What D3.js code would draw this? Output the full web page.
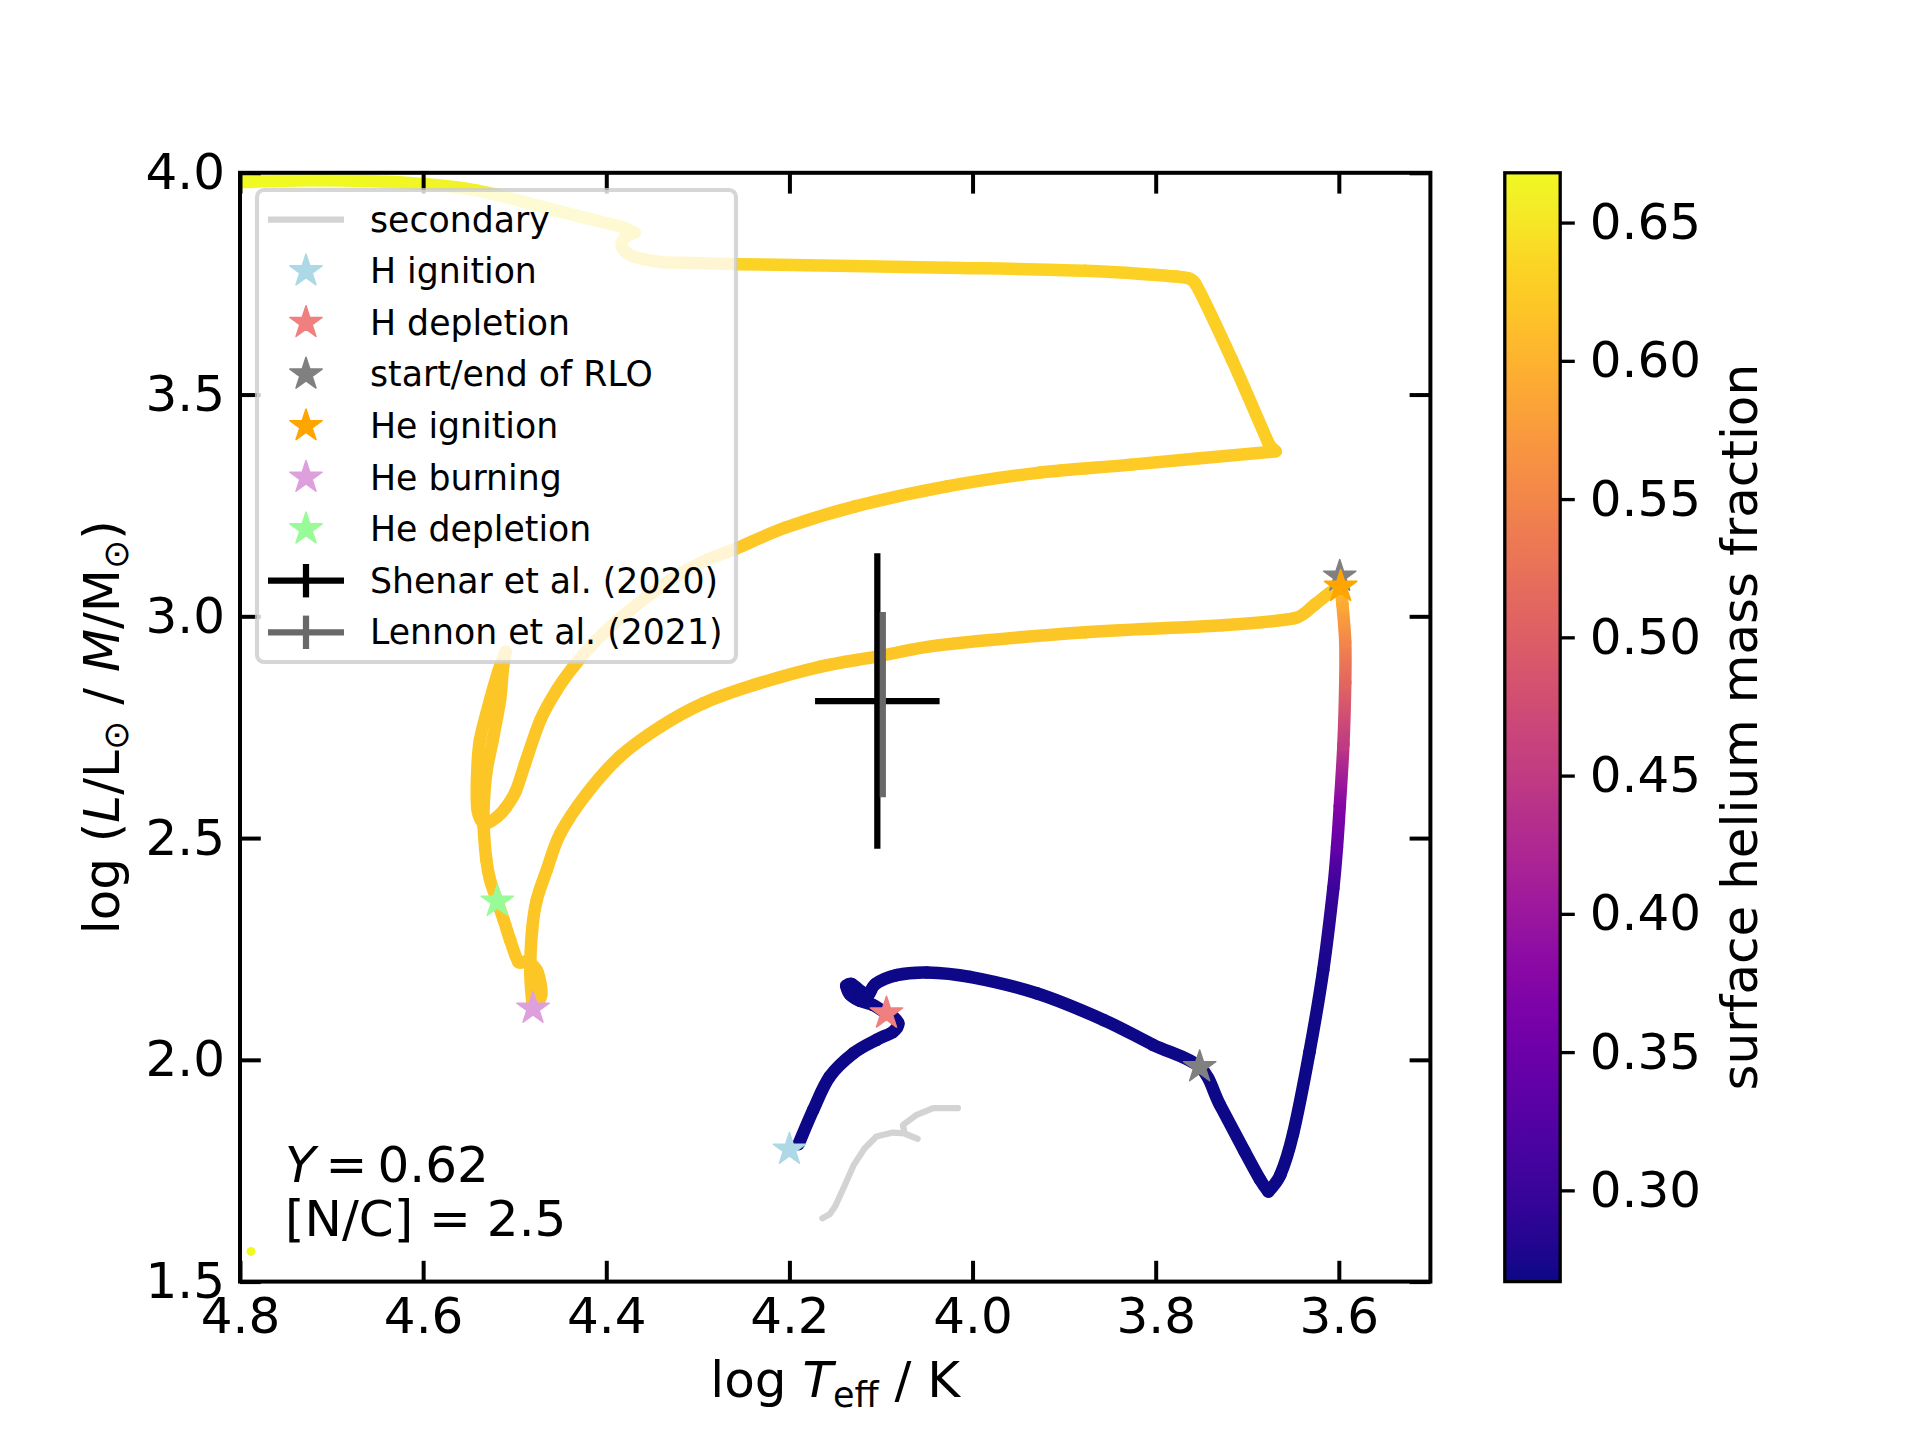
<!DOCTYPE html>
<html>
<head>
<meta charset="utf-8">
<script src="https://cdn.jsdelivr.net/npm/d3@7"></script>
<style>
  body { margin: 0; background: #ffffff; }
  text { font-family: "DejaVu Sans", sans-serif; }
</style>
</head>
<body>
<svg id="chart" width="1920" height="1440"></svg>
<script>
// primary star: log Teff, log (L/M) and surface helium along the track
var trackLogT = [4.190, 4.174, 4.156, 4.130, 4.105, 4.087, 4.081, 4.087, 4.094, 4.109,
                 4.123, 4.134, 4.138, 4.132, 4.121, 4.114, 4.106, 4.083, 4.050, 4.003,
                 3.930, 3.857, 3.803, 3.752, 3.730, 3.703, 3.686, 3.677, 3.664, 3.650,
                 3.632, 3.617, 3.606, 3.602, 3.599, 3.595, 3.593, 3.593, 3.596, 3.598,
                 3.610, 3.626, 3.648, 3.727, 3.877, 4.036, 4.105, 4.167, 4.239, 4.294,
                 4.341, 4.385, 4.421, 4.450, 4.465, 4.476, 4.481, 4.483, 4.480, 4.471,
                 4.475, 4.486, 4.496, 4.505, 4.512, 4.519, 4.527, 4.531, 4.534, 4.534,
                 4.531, 4.524, 4.516, 4.513, 4.510, 4.518, 4.527, 4.538, 4.541, 4.541,
                 4.537, 4.530, 4.519, 4.510, 4.499, 4.489, 4.472, 4.454, 4.436, 4.4105,
                 4.374, 4.330, 4.290, 4.258, 4.203, 4.128, 4.028, 3.927, 3.827, 3.669,
                 3.677, 3.717, 3.757, 3.777, 3.877, 4.028, 4.258, 4.315, 4.341, 4.371,
                 4.383, 4.379, 4.369, 4.383, 4.428, 4.466, 4.541, 4.616, 4.713, 4.797,
                 4.830];
var trackLogL = [1.810, 1.887, 1.962, 2.015, 2.045, 2.063, 2.082, 2.097, 2.105, 2.124,
                 2.133, 2.148, 2.167, 2.171, 2.153, 2.146, 2.171, 2.191, 2.197, 2.187,
                 2.150, 2.090, 2.034, 1.984, 1.899, 1.794, 1.730, 1.703, 1.740, 1.833,
                 2.018, 2.203, 2.387, 2.480, 2.572, 2.711, 2.850, 2.942, 3.026, 3.067,
                 3.053, 3.027, 2.996, 2.980, 2.964, 2.935, 2.909, 2.886, 2.845, 2.804,
                 2.751, 2.684, 2.601, 2.511, 2.428, 2.360, 2.293, 2.196, 2.116, 2.146,
                 2.198, 2.221, 2.221, 2.270, 2.315, 2.357, 2.406, 2.451, 2.527, 2.570,
                 2.647, 2.721, 2.811, 2.879, 2.920, 2.875, 2.811, 2.721, 2.647, 2.570,
                 2.541, 2.534, 2.548, 2.568, 2.605, 2.666, 2.766, 2.834, 2.886, 2.947,
                 3.014, 3.082, 3.127, 3.153, 3.201, 3.248, 3.293, 3.324, 3.342, 3.372,
                 3.391, 3.580, 3.751, 3.766, 3.779, 3.786, 3.794, 3.797, 3.799, 3.812,
                 3.834, 3.855, 3.865, 3.878, 3.901, 3.921, 3.960, 3.977, 3.983, 3.979,
                 3.975];
var trackHe = [0.267, 0.267, 0.267, 0.267, 0.267, 0.267, 0.267, 0.267, 0.267, 0.267,
               0.267, 0.267, 0.267, 0.267, 0.267, 0.267, 0.267, 0.267, 0.267, 0.267,
               0.267, 0.267, 0.267, 0.267, 0.267, 0.267, 0.267, 0.267, 0.267, 0.267,
               0.267, 0.272, 0.300, 0.340, 0.375, 0.450, 0.510, 0.550, 0.590, 0.620,
               0.620, 0.620, 0.620, 0.620, 0.620, 0.620, 0.620, 0.620, 0.620, 0.620,
               0.620, 0.620, 0.620, 0.620, 0.620, 0.620, 0.620, 0.620, 0.620, 0.620,
               0.620, 0.620, 0.620, 0.620, 0.620, 0.620, 0.620, 0.620, 0.620, 0.620,
               0.620, 0.620, 0.620, 0.620, 0.620, 0.620, 0.620, 0.620, 0.620, 0.620,
               0.620, 0.620, 0.620, 0.620, 0.620, 0.620, 0.620, 0.620, 0.620, 0.620,
               0.621, 0.621, 0.621, 0.622, 0.622, 0.623, 0.623, 0.624, 0.624, 0.625,
               0.626, 0.628, 0.630, 0.630, 0.631, 0.631, 0.632, 0.633, 0.634, 0.635,
               0.637, 0.639, 0.641, 0.643, 0.648, 0.653, 0.660, 0.665, 0.667, 0.668,
               0.668];
// last model of the track
var endLogT = [4.788];
var endLogL = [1.568];

// secondary star
var secLogT = [4.164, 4.156, 4.150, 4.140, 4.130, 4.118, 4.105, 4.087, 4.074, 4.060, 4.074, 4.076, 4.061, 4.043, 4.016];
var secLogL = [1.643, 1.652, 1.670, 1.715, 1.762, 1.800, 1.827, 1.836, 1.834, 1.822, 1.833, 1.853, 1.876, 1.891, 1.891];

// evolutionary markers
var eventNames = ["H ignition", "H depletion", "start/end of RLO", "He ignition", "He burning", "He depletion"];
var eventColors = ["#add8e6", "#f08080", "#808080", "#ffa500", "#dda0dd", "#98fb98"];
var markerEvent = [0, 1, 2, 2, 3, 4, 5];
var markerLogT = [4.200, 4.094, 3.752, 3.599, 3.598, 4.480, 4.519];
var markerLogL = [1.798, 2.105, 1.984, 3.090, 3.067, 2.116, 2.357];

// observations
var obsNames = ["Shenar et al. (2020)", "Lennon et al. (2021)"];
var obsColors = ["#000000", "#696969"];
var obsLogT = [4.104, 4.098];
var obsLogL = [2.809, 2.801];
var obsErrT = [0.068, 0.0];
var obsErrL = [0.333, 0.209];

// ticks
var xTicks = [4.8, 4.6, 4.4, 4.2, 4.0, 3.8, 3.6];
var yTicks = [1.5, 2.0, 2.5, 3.0, 3.5, 4.0];
var cTicks = [0.30, 0.35, 0.40, 0.45, 0.50, 0.55, 0.60, 0.65];

// layout
var plotLeft = 240, plotRight = 1430.4, plotTop = 172.8, plotBottom = 1281.6;
var cbLeft = 1504.8, cbRight = 1560.2;
var lineW = 12.5;

var svg = d3.select("#chart");
svg.append("rect").attr("width", 1920).attr("height", 1440).attr("fill", "#ffffff");
var defs = svg.append("defs");

var x = d3.scaleLinear().domain([4.8, 3.5]).range([plotLeft, plotRight]);
var y = d3.scaleLinear().domain([1.5, 4.0]).range([plotBottom, plotTop]);
var heExtent = d3.extent(trackHe);
var color = d3.scaleSequential(d3.interpolatePlasma).domain(heExtent);

defs.append("clipPath").attr("id", "plotclip")
    .append("rect")
    .attr("x", plotLeft).attr("y", plotTop)
    .attr("width", plotRight - plotLeft).attr("height", plotBottom - plotTop);

var plot = svg.append("g").attr("clip-path", "url(#plotclip)");

// secondary track
var secLine = d3.line()
    .x(function (d) { return x(d[0]); })
    .y(function (d) { return y(d[1]); });
plot.append("path")
    .datum(secLogT.map(function (t, i) { return [t, secLogL[i]]; }))
    .attr("d", secLine)
    .attr("fill", "none")
    .attr("stroke", "#d3d3d3")
    .attr("stroke-width", 6.25)
    .attr("stroke-linecap", "round")
    .attr("stroke-linejoin", "round");

// primary track, one smooth piece per step coloured by surface helium
var pts = trackLogT.map(function (t, i) { return [x(t), y(trackLogL[i])]; });
var n = pts.length;
function tangent(i) {
    var a = pts[Math.max(i - 1, 0)], b = pts[i], c = pts[Math.min(i + 1, n - 1)];
    var d1 = [b[0] - a[0], b[1] - a[1]], d2 = [c[0] - b[0], c[1] - b[1]];
    // sharp turns stay sharp
    if (d1[0] * d2[0] + d1[1] * d2[1] < 0) return [0, 0];
    var t = [(c[0] - a[0]) / 6, (c[1] - a[1]) / 6];
    var len = Math.hypot(t[0], t[1]);
    var cap = 0.4 * Math.min(Math.hypot(d1[0], d1[1]) || 1e9, Math.hypot(d2[0], d2[1]) || 1e9);
    if (len > cap) { t = [t[0] * cap / len, t[1] * cap / len]; }
    return t;
}
for (var i = 0; i < n - 1; i++) {
    var p1 = pts[i], p2 = pts[i + 1];
    var t1 = tangent(i), t2 = tangent(i + 1);
    var c1 = [p1[0] + t1[0], p1[1] + t1[1]];
    var c2 = [p2[0] - t2[0], p2[1] - t2[1]];
    var stroke;
    if (trackHe[i] === trackHe[i + 1]) {
        stroke = color(trackHe[i]);
    } else {
        var g = defs.append("linearGradient")
            .attr("id", "seg" + i)
            .attr("gradientUnits", "userSpaceOnUse")
            .attr("x1", p1[0]).attr("y1", p1[1])
            .attr("x2", p2[0]).attr("y2", p2[1]);
        g.append("stop").attr("offset", 0).attr("stop-color", color(trackHe[i]));
        g.append("stop").attr("offset", 1).attr("stop-color", color(trackHe[i + 1]));
        stroke = "url(#seg" + i + ")";
    }
    plot.append("path")
        .attr("d", "M" + p1 + "C" + c1 + " " + c2 + " " + p2)
        .attr("fill", "none")
        .attr("stroke", stroke)
        .attr("stroke-width", lineW)
        .attr("stroke-linecap", "round");
}

plot.selectAll(".enddot")
    .data(endLogT)
    .enter().append("circle")
    .attr("cx", function (d) { return x(d); })
    .attr("cy", function (d, i) { return y(endLogL[i]); })
    .attr("r", 4.5)
    .attr("fill", color(heExtent[1]));

// star marker
function starPath(r) {
    var p = [];
    for (var k = 0; k < 10; k++) {
        var a = -Math.PI / 2 + k * Math.PI / 5;
        var rr = k % 2 ? r * 0.381966 : r;
        p.push([rr * Math.cos(a), rr * Math.sin(a)]);
    }
    return "M" + p.join("L") + "Z";
}

svg.selectAll(".event")
    .data(markerLogT)
    .enter().append("path")
    .attr("class", "event")
    .attr("d", starPath(17))
    .attr("transform", function (d, i) { return "translate(" + x(d) + "," + y(markerLogL[i]) + ")"; })
    .attr("fill", function (d, i) { return eventColors[markerEvent[i]]; })
    .attr("stroke", function (d, i) { return eventColors[markerEvent[i]]; })
    .attr("stroke-width", 1.5)
    .attr("stroke-linejoin", "round");

// error bars
obsLogT.forEach(function (t, i) {
    var gObs = svg.append("g").attr("stroke", obsColors[i]).attr("stroke-width", 6.25);
    if (obsErrT[i] > 0) {
        gObs.append("line")
            .attr("x1", x(t - obsErrT[i])).attr("x2", x(t + obsErrT[i]))
            .attr("y1", y(obsLogL[i])).attr("y2", y(obsLogL[i]));
    }
    gObs.append("line")
        .attr("x1", x(t)).attr("x2", x(t))
        .attr("y1", y(obsLogL[i] - obsErrL[i])).attr("y2", y(obsLogL[i] + obsErrL[i]));
});

// axes with inward ticks on all four sides
function styleAxis(g, width) {
    g.attr("font-family", "DejaVu Sans").attr("font-size", 50);
    g.select(".domain").remove();
    g.selectAll(".tick line").attr("stroke", "#000").attr("stroke-width", width);
    g.selectAll(".tick text").attr("fill", "#000");
}
var gx = svg.append("g").attr("transform", "translate(0," + plotBottom + ")")
    .call(d3.axisBottom(x).tickValues(xTicks).tickFormat(d3.format(".1f")).tickSize(-20.8).tickPadding(16));
styleAxis(gx, 4);
var gxTop = svg.append("g").attr("transform", "translate(0," + plotTop + ")")
    .call(d3.axisTop(x).tickValues(xTicks).tickFormat("").tickSize(-20.8));
styleAxis(gxTop, 4);
var gy = svg.append("g").attr("transform", "translate(" + plotLeft + ",0)")
    .call(d3.axisLeft(y).tickValues(yTicks).tickFormat(d3.format(".1f")).tickSize(-20.8).tickPadding(15));
styleAxis(gy, 4);
var gyRight = svg.append("g").attr("transform", "translate(" + plotRight + ",0)")
    .call(d3.axisRight(y).tickValues(yTicks).tickFormat("").tickSize(-20.8));
styleAxis(gyRight, 4);

svg.append("rect")
    .attr("x", plotLeft).attr("y", plotTop)
    .attr("width", plotRight - plotLeft).attr("height", plotBottom - plotTop)
    .attr("fill", "none").attr("stroke", "#000").attr("stroke-width", 4);

// axis titles
var xl = svg.append("text").attr("x", (plotLeft + plotRight) / 2).attr("y", 1397)
    .attr("text-anchor", "middle").style("font-size", "50px");
xl.append("tspan").text("log ");
xl.append("tspan").style("font-style", "italic").text("T");
xl.append("tspan").attr("dy", 10).style("font-size", "35px").text("eff");
xl.append("tspan").attr("dy", -10).text(" / K");

var yl = svg.append("text")
    .attr("transform", "translate(119," + (plotTop + plotBottom) / 2 + ") rotate(-90)")
    .attr("text-anchor", "middle").style("font-size", "50px");
yl.append("tspan").text("log (");
yl.append("tspan").style("font-style", "italic").text("L");
yl.append("tspan").text("/L");
yl.append("tspan").attr("dy", 9).style("font-size", "35px").text("\u2299");
yl.append("tspan").attr("dy", -9).text(" / ");
yl.append("tspan").style("font-style", "italic").text("M");
yl.append("tspan").text("/M");
yl.append("tspan").attr("dy", 9).style("font-size", "35px").text("\u2299");
yl.append("tspan").attr("dy", -9).text(")");

// model annotation
var ann = svg.append("text").attr("x", 285).attr("y", 1181.5).style("font-size", "50px");
ann.append("tspan").style("font-style", "italic").text("Y");
ann.append("tspan").attr("dx", 10).text("=");
ann.append("tspan").attr("dx", 10).text("0.62");
svg.append("text").attr("x", 285).attr("y", 1236).style("font-size", "50px").text("[N/C] = 2.5");

// legend
var legendX = 257, legendY = 190, legendW = 479, legendH = 472;
var rowY0 = 219.5, rowStep = 51.6, handleX0 = 268, handleX1 = 344, textX = 370;
var legend = svg.append("g");
legend.append("rect")
    .attr("x", legendX).attr("y", legendY).attr("width", legendW).attr("height", legendH)
    .attr("rx", 7).attr("ry", 7)
    .attr("fill", "#ffffff").attr("fill-opacity", 0.8)
    .attr("stroke", "#cccccc").attr("stroke-opacity", 0.8).attr("stroke-width", 4.17);
var legendLabels = ["secondary"].concat(eventNames).concat(obsNames);
legend.selectAll(".ltext")
    .data(legendLabels)
    .enter().append("text")
    .attr("x", textX)
    .attr("y", function (d, i) { return rowY0 + i * rowStep + 12; })
    .style("font-size", "34.7px")
    .attr("fill", "#000")
    .text(function (d) { return d; });
legend.append("line")
    .attr("x1", handleX0).attr("x2", handleX1)
    .attr("y1", rowY0).attr("y2", rowY0)
    .attr("stroke", "#d3d3d3").attr("stroke-width", 6.25);
legend.selectAll(".lstar")
    .data(eventColors)
    .enter().append("path")
    .attr("d", starPath(17))
    .attr("transform", function (d, i) { return "translate(" + (handleX0 + handleX1) / 2 + "," + (rowY0 + (i + 1) * rowStep) + ")"; })
    .attr("fill", function (d) { return d; })
    .attr("stroke", function (d) { return d; })
    .attr("stroke-width", 1.5)
    .attr("stroke-linejoin", "round");
obsColors.forEach(function (c, i) {
    var ry = rowY0 + (i + 7) * rowStep;
    legend.append("line")
        .attr("x1", handleX0).attr("x2", handleX1).attr("y1", ry).attr("y2", ry)
        .attr("stroke", c).attr("stroke-width", 6.25);
    legend.append("line")
        .attr("x1", (handleX0 + handleX1) / 2).attr("x2", (handleX0 + handleX1) / 2)
        .attr("y1", ry - 16.7).attr("y2", ry + 16.7)
        .attr("stroke", c).attr("stroke-width", 6.25);
});

// colour bar
var cy = d3.scaleLinear().domain(heExtent).range([plotBottom, plotTop]);
var cbGrad = defs.append("linearGradient")
    .attr("id", "cbgrad")
    .attr("x1", 0).attr("y1", 1).attr("x2", 0).attr("y2", 0);
cbGrad.selectAll("stop")
    .data(d3.range(41))
    .enter().append("stop")
    .attr("offset", function (d) { return d / 40; })
    .attr("stop-color", function (d) { return color(heExtent[0] + d / 40 * (heExtent[1] - heExtent[0])); });
svg.append("rect")
    .attr("x", cbLeft).attr("y", plotTop)
    .attr("width", cbRight - cbLeft).attr("height", plotBottom - plotTop)
    .attr("fill", "url(#cbgrad)")
    .attr("stroke", "#000").attr("stroke-width", 3.3);
var gc = svg.append("g").attr("transform", "translate(" + cbRight + ",0)")
    .call(d3.axisRight(cy).tickValues(cTicks).tickFormat(d3.format(".2f")).tickSize(14.6).tickPadding(15));
styleAxis(gc, 3.3);

svg.append("text")
    .attr("transform", "translate(1757," + (plotTop + plotBottom) / 2 + ") rotate(-90)")
    .attr("text-anchor", "middle")
    .style("font-size", "50px")
    .text("surface helium mass fraction");
</script>
</body>
</html>
